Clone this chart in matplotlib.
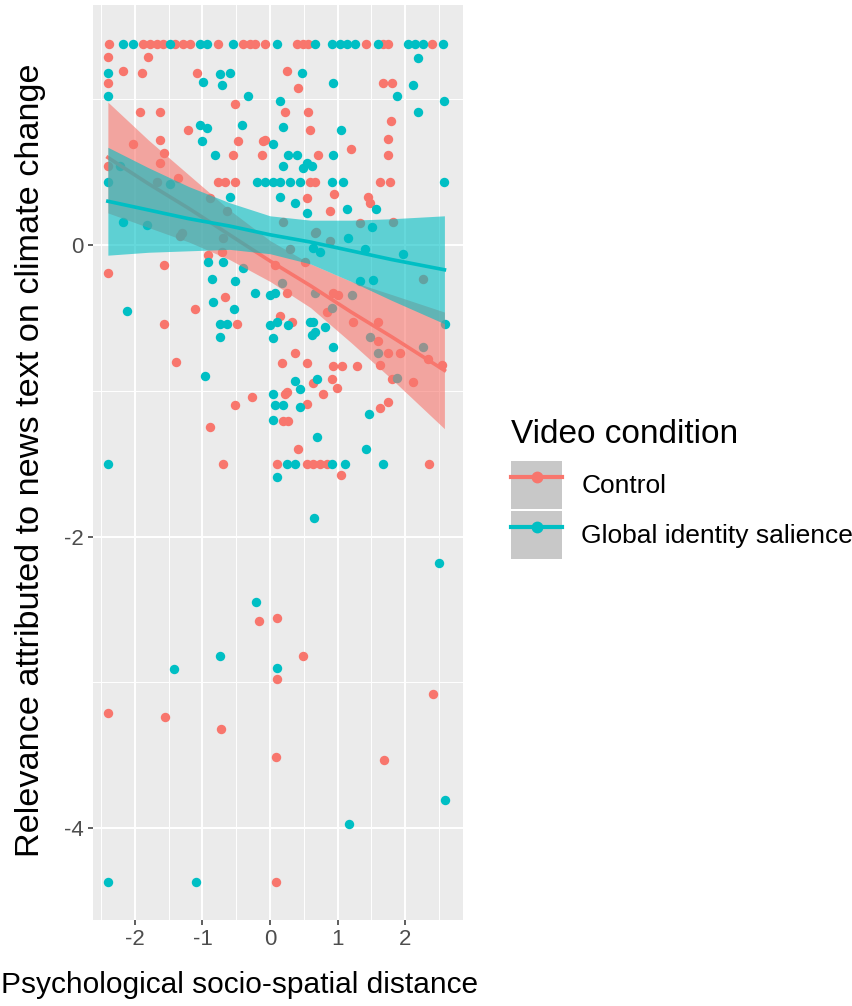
import numpy as np
import matplotlib
matplotlib.use('Agg')
import matplotlib.pyplot as plt
from matplotlib.lines import Line2D
from matplotlib.patches import Patch

plt.rcParams['font.family'] = ['Liberation Sans', 'DejaVu Sans']
plt.rcParams['axes.unicode_minus'] = False

# Control group points (x = distance, y = relevance)
ctrl_x = [-2.38, -1.88, -1.78, -1.67, -1.58, -1.41, -1.29, -1.18, -0.77, -0.40, -0.30, -0.22, -0.07,
          0.40, 0.49, 0.56, 1.42, 1.67, 1.74, 2.40,
          -2.40, -1.80, -2.17, -1.89, -2.40, -1.08, 0.25, -0.52, -1.92, -1.63, -1.21, -1.63, -2.03,
          -0.47, -0.55, -0.12, -0.10, -1.57, -1.63, -2.40,
          -0.77, -0.67, -0.52, 0.59, 0.67, 1.63, 1.78,
          0.41, 0.22, 0.56, 0.59, -0.07, 0.71, 1.67, 1.80, 1.79, 1.75, 1.20, 1.75, 0.95, 1.45, 1.48,
          0.89, 0.55,
          -2.40, -1.57, -1.57, -1.39, -0.67, -1.11, -0.49, 0.15, 0.18, -0.27, -0.52, 0.22, 0.19, -0.89,
          -0.70, 0.10, 0.25, 0.33, 0.37, 0.55, 0.64, 0.25, 0.55, 0.27, 0.41, 0.55, 0.64, 0.74, 0.84,
          0.93, 1.01, 1.23, 1.60, 0.84, 1.60, 1.75, 1.92, 2.34, 2.54, 0.93, 1.07, 1.29, 1.63, 1.80,
          2.12, 0.92, 0.99, 0.78, 1.75, 1.63, 2.35, 1.05,
          0.30, 0.52, 0.89, 0.68, 1.33, 1.82, 0.19, 2.26, 0.07, -0.71, -0.92, -0.70, -1.33, -1.67,
          -1.36, -0.89, -0.64, -1.30, 0.67,
          -0.16, 0.10, 0.49, 0.10, 2.41, -2.40, -1.55, -0.72, 0.09, 1.69, 0.09]
ctrl_y = [1.38, 1.38, 1.38, 1.38, 1.38, 1.38, 1.38, 1.38, 1.38, 1.38, 1.38, 1.38, 1.38,
          1.38, 1.38, 1.38, 1.38, 1.38, 1.38, 1.38,
          1.29, 1.29, 1.19, 1.18, 1.11, 1.18, 1.19, 0.97, 0.91, 0.91, 0.79, 0.72, 0.69,
          0.71, 0.62, 0.62, 0.71, 0.63, 0.56, 0.54,
          0.43, 0.43, 0.43, 0.43, 0.43, 0.43, 0.43,
          1.08, 0.91, 0.91, 0.79, 0.72, 0.62, 1.11, 1.11, 0.85, 0.73, 0.66, 0.62, 0.35, 0.33, 0.29,
          0.23, 0.32,
          -0.19, -0.14, -0.54, -0.80, -0.36, -0.44, -0.54, -0.49, -0.81, -1.04, -1.10, -1.02, -1.21, -1.25,
          -1.50, -1.50, -0.33, -0.53, -0.74, -0.81, -0.95, -1.01, -1.09, -1.21, -1.40, -1.50, -1.50, -1.50, -1.50,
          -0.33, -0.34, -0.53, -0.53, -0.46, -0.66, -0.74, -0.74, -0.78, -0.82, -0.83, -0.83, -0.83, -0.82, -0.92,
          -0.94, -0.92, -0.98, -1.02, -1.08, -1.12, -1.50, -1.58,
          -0.03, -0.12, 0.03, 0.09, 0.15, 0.16, 0.16, -0.23, -0.14, -0.05, -0.07, 0.05, 0.06, 0.43,
          0.46, 0.32, 0.23, 0.08, 0.08,
          -2.58, -2.56, -2.82, -2.98, -3.08, -3.21, -3.24, -3.32, -3.51, -3.53, -4.37]

# Global identity salience group points
glob_x = [-2.17, -2.03, -1.48, -1.04, -0.93, -0.55, 0.10, 0.67, 0.92, 1.04, 1.14, 1.26, 1.60, 2.04,
          2.14, 2.26, 2.56,
          -2.40, -2.40, -0.99, -0.74, -0.59, -0.71, -0.33, 0.15, 0.47, -1.04, -0.93, -1.01, -0.41,
          -0.81, 0.04, 0.19, 0.19, -2.22, -2.40,
          -0.19, -0.07, 0.04, 0.15, 0.30, 0.44, 0.92, 1.08, 2.57,
          -0.59, 0.15, 0.27, 0.40, 0.55, 0.62, 0.49, 0.37, 0.55, 2.19, 0.93, 2.12, 1.88, 2.57, 2.19,
          1.05, 0.93, 1.57, 1.14, 1.51, 1.15, -2.17, -1.82, -1.48,
          0.64, 0.74, 1.41, 1.97, 1.33, 1.52, 2.59,
          0.92, 1.48, 1.60, 2.26, 1.88, 1.21, 0.67, 0.18,
          -2.12, -0.96, -0.92, -0.70, -0.40, -0.86, -0.52, -0.22, 0.00, 0.07, -0.84, -0.53, -0.74,
          -0.64, -0.74, 0.00, 0.10, 0.04, 0.04, 0.07, 0.19, 0.04, -2.40, 0.25, 0.37, 0.10, 0.27,
          0.59, 0.62, 0.37, 0.44, 0.44, 0.70, 0.64, 0.81, 0.67, 0.93, 0.70, 1.46, 1.42, 0.92,
          1.11, 1.67,
          0.65, 2.50, -0.21, -0.74, -1.42, 0.10, 2.59, 1.17, -2.40, -1.09]
glob_y = [1.38, 1.38, 1.38, 1.38, 1.38, 1.38, 1.38, 1.38, 1.38, 1.38, 1.38, 1.38, 1.38, 1.38,
          1.38, 1.38, 1.38,
          1.18, 1.02, 1.12, 1.17, 1.18, 1.10, 1.02, 0.99, 1.18, 0.82, 0.80, 0.71, 0.82,
          0.62, 0.69, 0.81, 0.54, 0.54, 0.43,
          0.43, 0.43, 0.43, 0.43, 0.43, 0.43, 0.43, 0.43, 0.43,
          0.33, 0.33, 0.62, 0.62, 0.56, 0.54, 0.53, 0.29, 0.22, 1.28, 1.11, 1.10, 1.02, 0.99, 0.91,
          0.79, 0.62, 0.25, 0.25, 0.12, 0.05, 0.16, 0.14, 0.42,
          -0.02, -0.05, -0.03, -0.06, -0.25, -0.24, -0.54,
          -0.43, -0.63, -0.74, -0.70, -0.91, -0.34, -0.33, -0.26,
          -0.45, -0.90, -0.12, -0.12, -0.16, -0.23, -0.25, -0.33, -0.34, -0.33, -0.39, -0.44, -0.54,
          -0.54, -0.63, -0.55, -0.53, -0.64, -1.02, -1.10, -1.10, -1.20, -1.50, -1.50, -1.50, -1.59, -0.55,
          -0.53, -0.62, -0.93, -0.99, -1.11, -1.32, -0.53, -0.56, -0.60, -0.70, -0.92, -1.16, -1.40, -1.50,
          -1.50, -1.50,
          -1.87, -2.18, -2.45, -2.82, -2.91, -2.90, -3.81, -3.97, -4.37, -4.37]

# linear fits with 95% CI
fit_x = [-2.40, -1.8, -1.2, -0.6, 0.0, 0.6, 1.2, 1.8, 2.58]
ctrl_fit = [0.60, 0.42, 0.25, 0.07, -0.11, -0.28, -0.46, -0.63, -0.86]
ctrl_lo = [0.22, 0.12, 0.02, -0.10, -0.25, -0.43, -0.67, -0.92, -1.26]
ctrl_hi = [0.98, 0.72, 0.48, 0.24, 0.03, -0.13, -0.25, -0.34, -0.46]
glob_fit = [0.30, 0.24, 0.18, 0.13, 0.07, 0.02, -0.04, -0.10, -0.17]
glob_lo = [-0.07, -0.05, -0.04, -0.03, -0.06, -0.13, -0.25, -0.38, -0.54]
glob_hi = [0.67, 0.53, 0.40, 0.29, 0.20, 0.17, 0.17, 0.18, 0.20]

groups = ['Control', 'Global identity salience']
colors = ['#F8766D', '#00BFC4']

fig = plt.figure(figsize=(8.53, 10.06), dpi=100)
ax = fig.add_axes([93 / 853, 1 - 920 / 1006, 370 / 853, 915 / 1006])
ax.set_facecolor('#EBEBEB')
for sp in ax.spines.values():
    sp.set_visible(False)

ax.set_xlim(-2.62, 2.855)
ax.set_ylim(-4.63, 1.646)
ax.set_xticks([-2, -1, 0, 1, 2])
ax.set_xticks([-2.5, -1.5, -0.5, 0.5, 1.5, 2.5], minor=True)
ax.set_yticks([-4, -2, 0])
ax.set_yticks([-3, -1, 1], minor=True)
ax.grid(which='major', color='white', lw=1.4)
ax.grid(which='minor', color='white', lw=0.7)
ax.set_axisbelow(True)
ax.tick_params(which='major', length=3.5, width=1.1, color='#333333', labelcolor='#4D4D4D',
               labelsize=16, pad=3)
ax.tick_params(which='minor', length=0)

ax.scatter(ctrl_x, ctrl_y, s=46, color=colors[0], linewidths=0, zorder=2)
ax.scatter(glob_x, glob_y, s=46, color=colors[1], linewidths=0, zorder=2)

# ribbon then line per group, control first so the teal ribbon sits on top
ax.fill_between(fit_x, ctrl_lo, ctrl_hi, color=colors[0], alpha=0.6, linewidth=0, zorder=3)
ax.plot(fit_x, ctrl_fit, color=colors[0], lw=2.6, zorder=4)
ax.fill_between(fit_x, glob_lo, glob_hi, color=colors[1], alpha=0.6, linewidth=0, zorder=5)
ax.plot(fit_x, glob_fit, color=colors[1], lw=2.6, zorder=6)

ax.set_ylabel('Relevance attributed to news text on climate change', fontsize=24.7)
ax.yaxis.set_label_coords(-0.128, 0.503)
fig.text(1 / 853, 1 - 985 / 1006, 'Psychological socio-spatial distance', fontsize=21.5,
         ha='left', va='center')

# legend
fig.text(511 / 853, 1 - 434 / 1006, 'Video condition', fontsize=24, ha='left', va='center')
handles = [(Patch(facecolor='#C8C8C8', edgecolor='none'),
            Line2D([], [], color=c, lw=3, marker='o', markersize=7.5)) for c in colors]
leg = fig.legend(handles, groups, loc='upper left', bbox_to_anchor=(511 / 853, 1 - 461 / 1006),
                 frameon=False, fontsize=19, handlelength=1.95, handleheight=2.42,
                 labelspacing=0.08, handletextpad=0.72, borderpad=0, borderaxespad=0,
                 numpoints=1)

fig.savefig('out.png', dpi=100)
